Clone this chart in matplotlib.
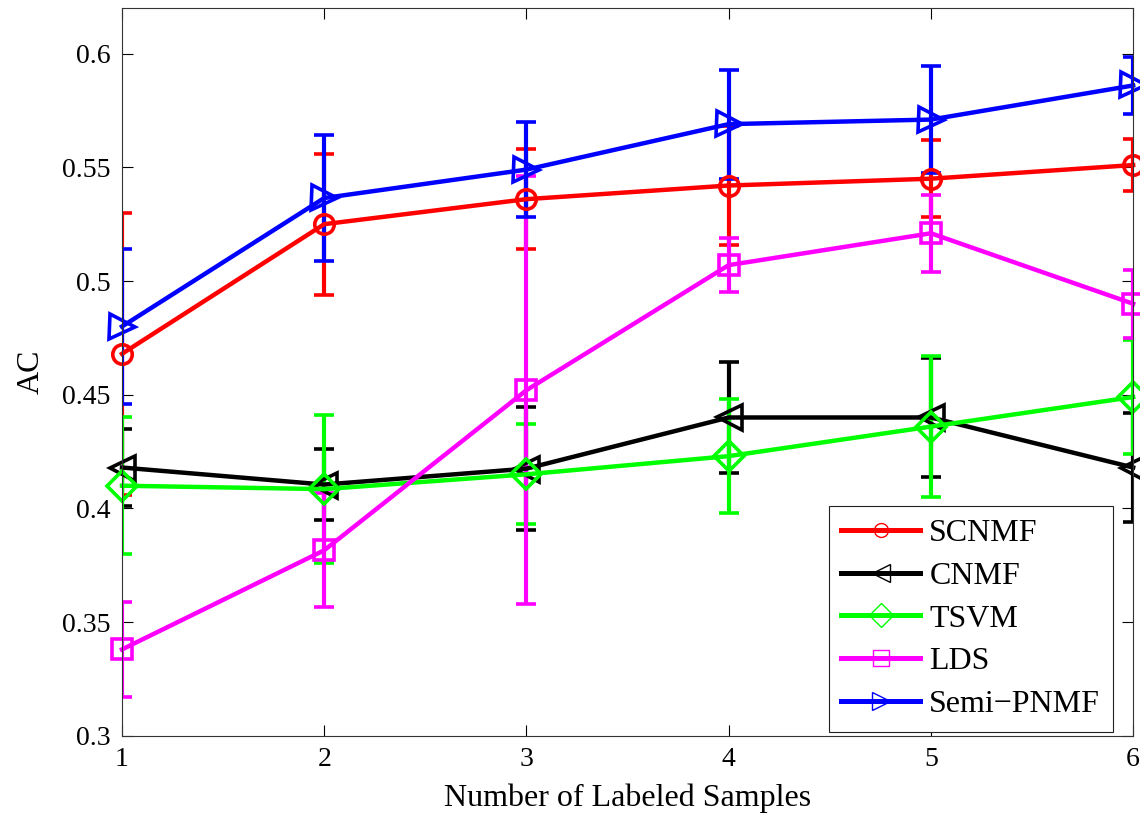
import matplotlib
matplotlib.use("Agg")
import matplotlib.pyplot as plt
import numpy as np

plt.rcParams['font.family'] = ['Liberation Serif', 'DejaVu Serif']

samples = [1, 2, 3, 4, 5, 6]

names = ['SCNMF', 'CNMF', 'TSVM', 'LDS', 'Semi\u2212PNMF']

scnmf_mean = [0.468, 0.525, 0.536, 0.542, 0.545, 0.551]
scnmf_err = [0.062, 0.031, 0.022, 0.026, 0.017, 0.0115]

cnmf_mean = [0.418, 0.4105, 0.4175, 0.440, 0.440, 0.418]
cnmf_err = [0.017, 0.0155, 0.027, 0.0245, 0.026, 0.024]

tsvm_mean = [0.410, 0.4085, 0.415, 0.423, 0.436, 0.449]
tsvm_err = [0.030, 0.0325, 0.022, 0.025, 0.031, 0.025]

lds_mean = [0.338, 0.3816, 0.452, 0.507, 0.521, 0.490]
lds_err = [0.021, 0.025, 0.094, 0.012, 0.017, 0.015]

semi_mean = [0.480, 0.5365, 0.549, 0.569, 0.571, 0.586]
semi_err = [0.034, 0.0275, 0.021, 0.024, 0.0237, 0.0125]

means = [scnmf_mean, cnmf_mean, tsvm_mean, lds_mean, semi_mean]
errs = [scnmf_err, cnmf_err, tsvm_err, lds_err, semi_err]
colors = ['#ff0000', '#000000', '#00ff00', '#ff00ff', '#0000ff']
markers = ['o', '<', 'D', 's', '>']
msizes = [14, 18, 15, 14, 18]
leg_msizes = [10, 13.5, 12.5, 11.5, 13.5]

fig = plt.figure(figsize=(11.4, 8.14), dpi=100)
ax = fig.add_axes([0.107, 0.096, 0.887, 0.894])

handles = []
for name, m, e, c, mk, ms, lms in zip(names, means, errs, colors, markers, msizes, leg_msizes):
    line, caps, bars = ax.errorbar(samples, m, yerr=e, color=c, lw=3.2, capsize=7,
                                   capthick=3, elinewidth=3, marker=mk, ms=ms,
                                   mfc='none', mec=c, mew=2.6)
    line.set_clip_on(False)
    # legend sample: line with a thin marker, no error bar
    h, = ax.plot([], [], color=c, lw=3.6, marker=mk, ms=lms, mfc='none', mec=c,
                 mew=1.0, label=name)
    handles.append(h)

ax.set_xlim(1, 6)
ax.set_ylim(0.3, 0.62)
ax.set_xticks(samples)
ax.set_yticks(np.arange(0.3, 0.601, 0.05))
ax.set_yticklabels(['0.3', '0.35', '0.4', '0.45', '0.5', '0.55', '0.6'])
ax.tick_params(direction='in', length=8, width=0.8, labelsize=20, top=True, right=True,
               pad=8)
for sp in ax.spines.values():
    sp.set_linewidth(0.8)
    sp.set_color('#333333')

ax.set_xlabel('Number of Labeled Samples', fontsize=23, labelpad=8)
ax.set_ylabel('AC', fontsize=23, labelpad=12)

leg = ax.legend(handles=handles, loc='lower right', bbox_to_anchor=(0.980, 0.0055),
                fontsize=23, frameon=True, fancybox=False, edgecolor='#222222',
                framealpha=1, handlelength=2.45, handletextpad=0.3,
                borderpad=0.4, labelspacing=0.42, borderaxespad=0)
leg.get_frame().set_linewidth(0.8)

fig.savefig('out.png', dpi=100)
